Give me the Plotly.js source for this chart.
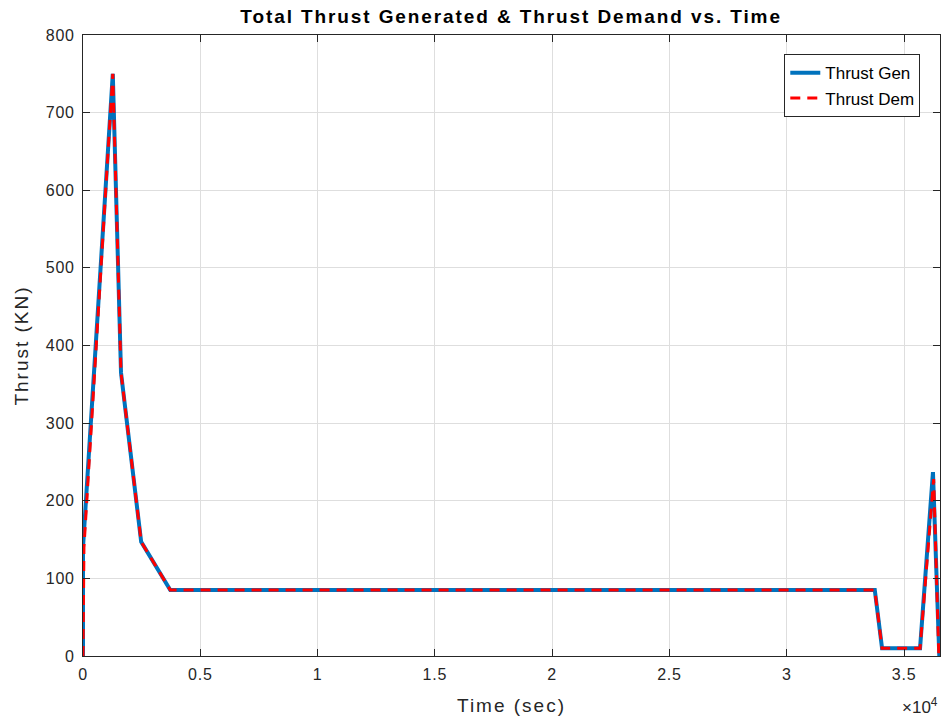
<!DOCTYPE html>
<html>
<head>
<meta charset="utf-8">
<script src="https://cdn.plot.ly/plotly-3.0.1.min.js"></script>
<style>
html,body{margin:0;padding:0;background:#fff;}
#chart{width:943px;height:723px;}
#chart .gtitle{letter-spacing:1.9px;}
#chart .xtitle,#chart .ytitle{letter-spacing:2px;}
#chart .xtick text,#chart .ytick text{letter-spacing:0.8px;}
</style>
</head>
<body>
<div id="chart"></div>
<script>
// Data (time in seconds, thrust in kN)
const timeGen   = [0, 0, 1270, 1620, 2480, 3720, 33750, 34060, 35680, 36230, 36500];
const thrustGen = [0, 140, 750, 365, 147, 85, 85, 10, 10, 237, 0];
const timeDem   = [0, 40, 1270, 1620, 2480, 3720, 33750, 34060, 35680, 36260, 36480];
const thrustDem = [0, 140, 750, 365, 147, 85, 85, 10, 10, 228, 0];
const xTickVals = [0, 5000, 10000, 15000, 20000, 25000, 30000, 35000];
const xTickText = ['0', '0.5', '1', '1.5', '2', '2.5', '3', '3.5'];
const yTickVals = [0, 100, 200, 300, 400, 500, 600, 700, 800];

const FONT = 'Liberation Sans, Arial, Helvetica, sans-serif';
const traces = [
  {x: timeGen, y: thrustGen, type: 'scatter', mode: 'lines', name: 'Thrust Gen',
   line: {color: '#0072BD', width: 4}},
  {x: timeDem, y: thrustDem, type: 'scatter', mode: 'lines', name: 'Thrust Dem',
   line: {color: '#FF0000', width: 3, dash: '10px,7px'}}
];
const axisCommon = {
  showline: true, linecolor: '#262626', linewidth: 1, mirror: 'ticks',
  ticks: 'inside', ticklen: 7, tickcolor: '#262626',
  showgrid: true, gridcolor: '#dedede', gridwidth: 1, zeroline: false,
  tickfont: {family: FONT, size: 16, color: '#262626'},
  ticklabelstandoff: 4
};
const layout = {
  width: 943, height: 723,
  margin: {l: 83, r: 3, t: 35, b: 67},
  paper_bgcolor: '#ffffff', plot_bgcolor: '#ffffff',
  showlegend: true,
  title: {text: '<b>Total Thrust Generated & Thrust Demand vs. Time</b>',
          font: {family: FONT, size: 19, color: '#000'}, x: 0.542, xanchor: 'center', y: 0.978, yanchor: 'middle'},
  xaxis: Object.assign({}, axisCommon, {
    range: [0, 36530], tickvals: xTickVals, ticktext: xTickText,
    title: {text: 'Time (sec)', font: {family: FONT, size: 19, color: '#262626'}, standoff: 16}
  }),
  yaxis: Object.assign({}, axisCommon, {
    range: [0, 800], tickvals: yTickVals,
    title: {text: 'Thrust (KN)', font: {family: FONT, size: 19, color: '#262626'}, standoff: 14}
  }),
  legend: {x: 0.977, xanchor: 'right', y: 0.969, yanchor: 'top',
           bgcolor: '#ffffff', bordercolor: '#262626', borderwidth: 1,
           font: {family: FONT, size: 17, color: '#000'}, tracegroupgap: 0},
  annotations: [{
    xref: 'paper', yref: 'paper', x: 1.0, y: -0.08, xanchor: 'right', yanchor: 'middle',
    text: '\u00d710<sup>4</sup>', showarrow: false,
    font: {family: FONT, size: 17, color: '#262626'}
  }]
};
Plotly.newPlot('chart', traces, layout, {displayModeBar: false, staticPlot: true});
</script>
</body>
</html>
